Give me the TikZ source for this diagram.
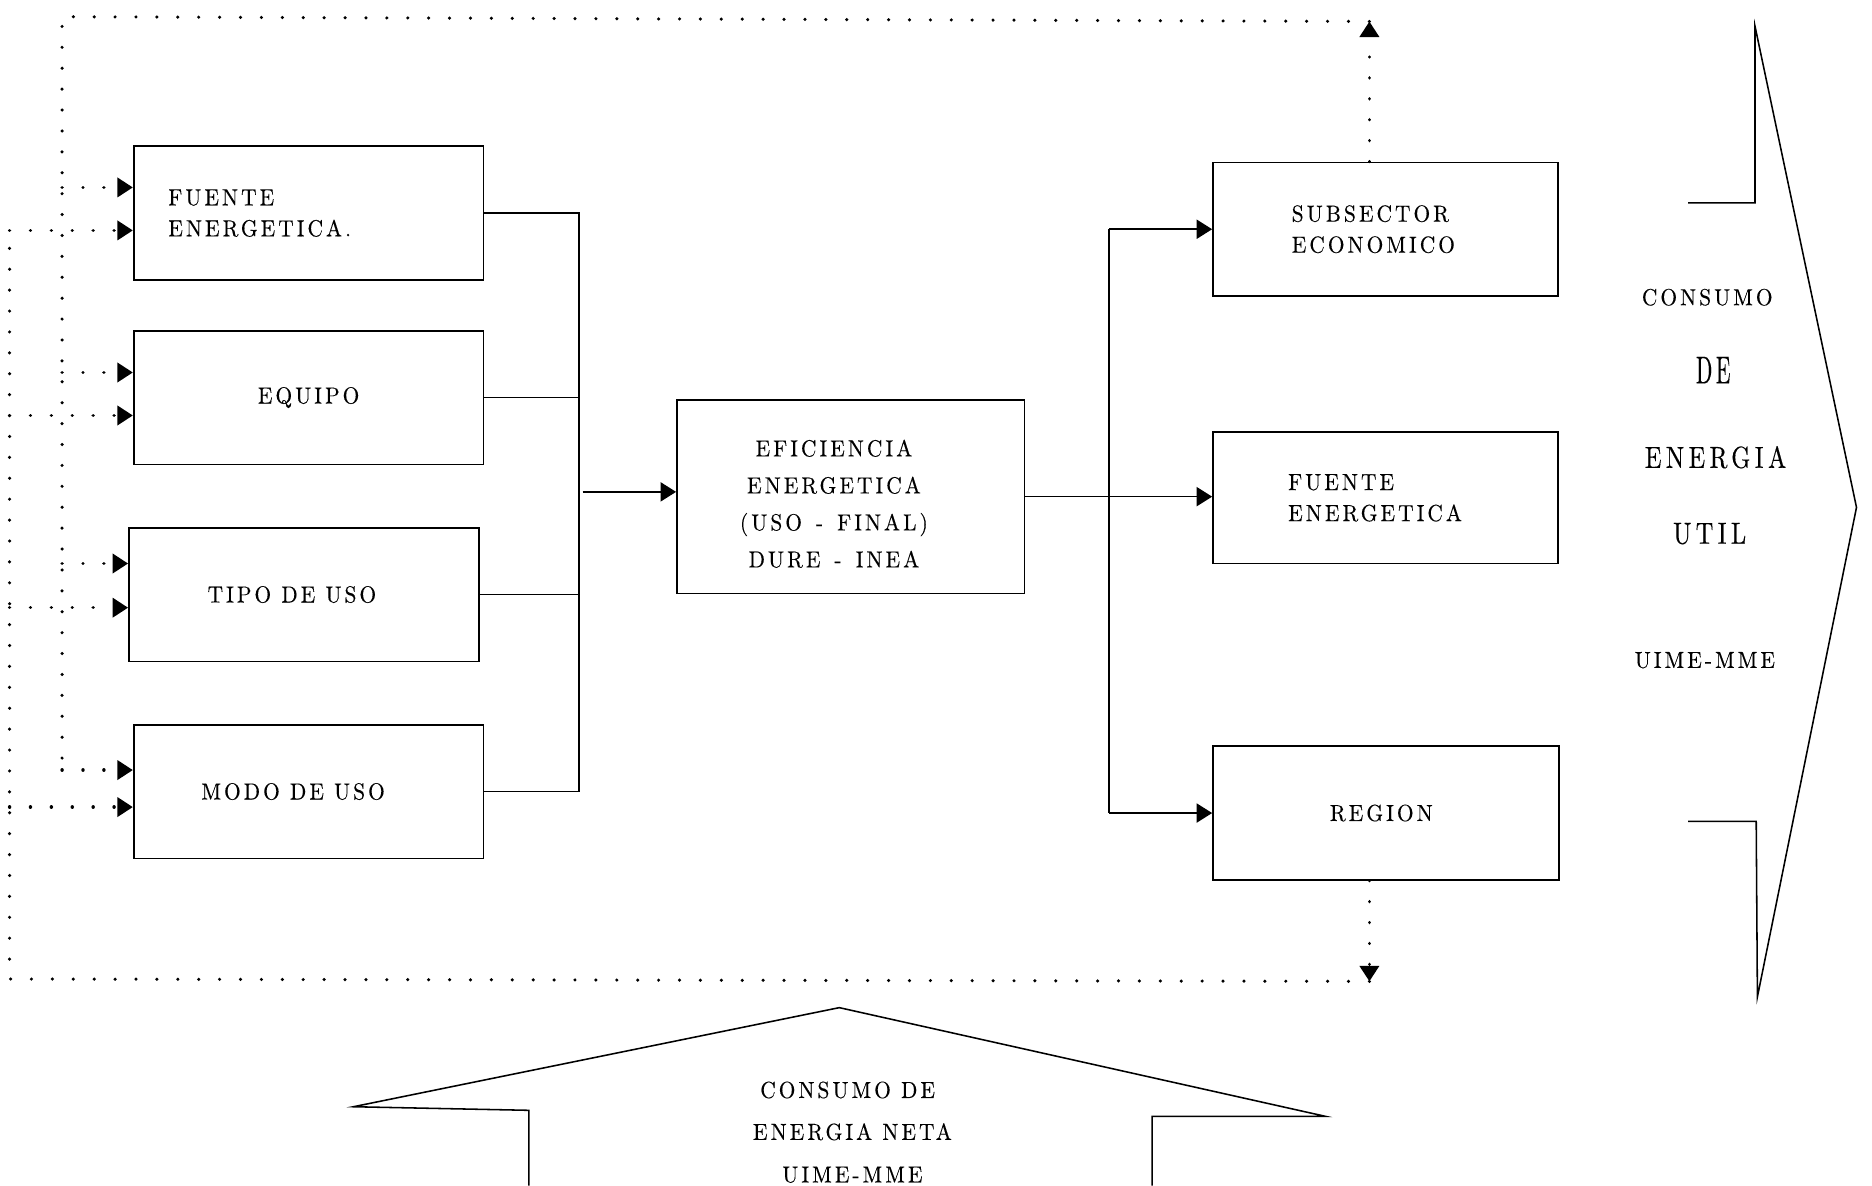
\documentclass[tikz,border=0pt]{standalone}
\usepackage{fontspec}
\usetikzlibrary{arrows.meta,calc}
% condensed, letter-spaced serif in the style of a pen plotter
\newfontfamily\boxfont{lmroman10-regular.otf}[LetterSpace=13,FakeStretch=0.92,FakeBold=0.3]
\newfontfamily\tallfont{lmroman10-regular.otf}[LetterSpace=14.5,FakeStretch=0.8,FakeBold=0.3]
\newfontfamily\narrowfont{lmroman10-regular.otf}[LetterSpace=9,FakeStretch=0.55,FakeBold=0.3]

\begin{document}
\begin{tikzpicture}[x=1pt,y=-1pt,
  txt/.style={font=\boxfont\fontsize{19.5}{26}\selectfont, inner sep=0pt},
  box/.style={draw, line width=1.4pt, minimum width=293pt, minimum height=112pt,
              inner sep=0pt, font=\boxfont\fontsize{19.5}{26}\selectfont},
  wire/.style={line width=1.4pt},
  tip/.style={-{Triangle[length=13pt,width=16pt]}},
  dotline/.style={line width=2.9pt, line cap=round, dash pattern=on 0.01pt off 17.5pt},
  outline/.style={line width=1.3pt, line join=miter}]
\useasboundingbox (0,0) rectangle (1568,993);

% ---- input boxes -------------------------------------------------------
\node[box, text width=235pt, align=left, inner xsep=29pt] (fe) at (258.5,178.5)
  {FUENTE\\ENERGETICA.};
\node[box] (eq) at (258.5,333) {EQUIPO};
\node[box] (tu) at (254.5,498) {TIPO DE USO\kern20pt};
\node[box] (mu) at (258.5,663) {MODO DE USO\kern26pt};

% ---- central box -------------------------------------------------------
\node[box, minimum width=291pt, minimum height=162pt] (ef) at (712.5,416) {};
\node[txt, align=center, font=\boxfont\fontsize{19.5}{31}\selectfont] (eft)
  at ($(ef.center)+(-14,6)$) {EFICIENCIA\\ENERGETICA\\(USO \,-\, FINAL)\\DURE \,-\, INEA};

% ---- output boxes ------------------------------------------------------
\node[box, minimum width=289pt, text width=157pt, align=left, inner xsep=66pt] (se)
  at (1160.5,192) {SUBSECTOR\\ECONOMICO};
\node[box, minimum width=289pt, minimum height=110pt, text width=163pt, align=left,
      inner xsep=63pt] (fs) at (1160.5,417) {FUENTE\\ENERGETICA};
\node[box, minimum width=290pt] (re) at (1161,681) {REGION\kern8pt};

% ---- solid connectors --------------------------------------------------
\coordinate (busL) at (485,0);
\coordinate (busR) at (929,0);
\draw[wire] (fe.east) -- (fe.east -| busL) -- (mu.east -| busL) -- (mu.east);
\draw[wire] (eq.east) -- (eq.east -| busL);
\draw[wire] (tu.east) -- (tu.east -| busL);
\draw[wire,tip] ($(ef.west -| busL)+(3,-4)$) -- ($(ef.west)+(0,-4)$);
\draw[wire,tip] (ef.east) -- (ef.east -| fs.west);
\draw[wire] (se.west -| busR) -- (re.west -| busR);
\draw[wire,tip] (se.west -| busR) -- (se.west);
\draw[wire,tip] (re.west -| busR) -- (re.west);

% ---- dotted feedback loops ---------------------------------------------
\coordinate (tl) at (52,14);
\coordinate (tr) at (1147,18);
\coordinate (bl) at (8,820);
\coordinate (br) at (1147,822);
\draw[dotline,tip] ($(se.north)+(-13.5,0)$) -- (tr);
\draw[dotline] (tr) -- (tl) -- (52,645);
\draw[dotline,tip] ($(re.south)+(-14,0)$) -- (br);
\draw[dotline] (br) -- (bl) -- (8,193);

\coordinate (fe-a) at ($(fe.west)+(0,-21.5)$);
\coordinate (fe-b) at ($(fe.west)+(0,14.5)$);
\coordinate (eq-a) at ($(eq.west)+(0,-21)$);
\coordinate (eq-b) at ($(eq.west)+(0,15)$);
\coordinate (tu-a) at ($(tu.west)+(0,-26)$);
\coordinate (tu-b) at ($(tu.west)+(0,11)$);
\coordinate (mu-a) at ($(mu.west)+(0,-18)$);
\coordinate (mu-b) at ($(mu.west)+(0,13)$);
\foreach \p in {fe-a,eq-a,tu-a,mu-a}
  \draw[dotline,tip] (\p -| tl) -- (\p);
\foreach \p in {fe-b,eq-b,tu-b,mu-b}
  \draw[dotline,tip] (\p -| bl) -- (\p);

% ---- useful energy arrow (right) ---------------------------------------
\draw[outline] (1414,170) -- (1470,170) -- (1470,22) -- (1555,425)
  -- (1472,835) -- (1471,688) -- (1414,688);
\node[txt] (u1) at (1430,249) {CONSUMO};
\node[inner sep=0pt, font=\narrowfont\fontsize{32.6}{34}\selectfont] (u2) at (1435,310) {DE};
\node[inner sep=0pt, font=\tallfont\fontsize{25.5}{28}\selectfont] (u3) at (1437,383) {ENERGIA};
\node[inner sep=0pt, font=\tallfont\fontsize{25.5}{28}\selectfont] (u4) at (1432,447) {UTIL};
\node[txt] (u5) at (1428,553) {UIME-MME};

% ---- net energy arrow (bottom) -----------------------------------------
\draw[outline] (443,993) -- (443,930) -- (296,927) -- (703,844)
  -- (1110,935) -- (965,935) -- (965,993);
\node[txt] (n1) at (710,913) {CONSUMO DE};
\node[txt] (n2) at (714,948) {ENERGIA NETA};
\node[txt] (n3) at (714,984) {UIME-MME};
\end{tikzpicture}
\end{document}
